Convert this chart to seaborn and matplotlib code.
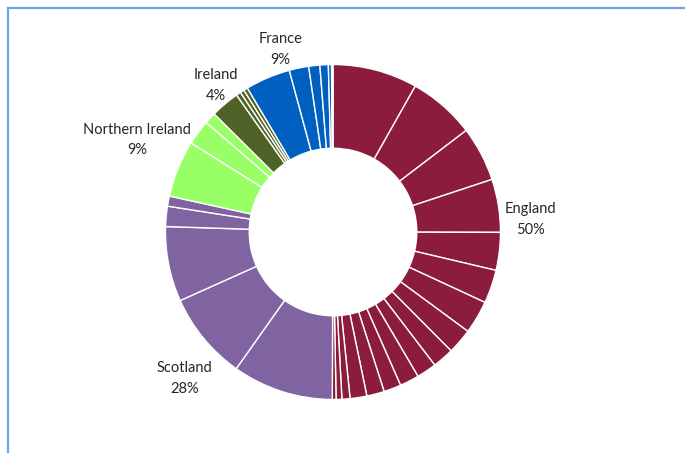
import matplotlib
matplotlib.use("Agg")
import matplotlib.pyplot as plt
import seaborn as sns
import numpy as np
from matplotlib.patches import Rectangle

# ---- data (slice values, grouped by country) ----
countries = ["England", "Scotland", "Northern Ireland", "Ireland", "France"]
england = [29.4, 23.2, 19.0, 18.4, 13.1, 11.6, 11.5, 8.8, 7.4, 6.9, 6.7, 6.0, 6.1, 5.8, 2.8, 2.0, 1.3]
scotland = [35.0, 30.5, 26.0, 7.0, 3.5]
northern_ireland = [19.7, 8.7, 4.0]
ireland = [10.0, 1.6, 1.4, 1.4]
france = [15.6, 6.75, 3.85, 2.9, 1.1, 0.5]
groups = [england, scotland, northern_ireland, ireland, france]

colors = ["#8B1C3B", "#8064A2", "#99FF66", "#4F6228", "#0060C0"]
label_pos = [(1.18, 0.075), (-0.885, -0.875), (-1.17, 0.55), (-0.70, 0.875), (-0.315, 1.09)]

sns.set_theme(style="white")
plt.rcParams["font.family"] = ["Lato", "DejaVu Sans"]

W, H = 685, 453
fig = plt.figure(figsize=(W / 100, H / 100), dpi=100)
fig.patch.set_facecolor("white")

cx, cy, R = 333, 232, 167.5
ax = fig.add_axes([0, 0, 1, 1])

values = [v for g in groups for v in g]
slice_colors = [colors[i] for i, g in enumerate(groups) for _ in g]

ax.pie(values, colors=slice_colors, startangle=90, counterclock=False,
       radius=1.0, wedgeprops=dict(width=0.5, edgecolor="white", linewidth=1.0))

ax.set_xlim(-cx / R, (W - cx) / R)
ax.set_ylim(-(H - cy) / R, cy / R)
ax.set_aspect("auto")
ax.axis("off")

total = sum(values)
for name, g, (lx, ly) in zip(countries, groups, label_pos):
    pct = round(100 * sum(g) / total)
    ax.text(lx, ly, f"{name}\n{pct}%", ha="center", va="center",
            fontsize=10.5, color="#262626", linespacing=1.6)

# outer frame (only left/top edges visible in the crop)
fig.patches.append(Rectangle((7.5 / W, -0.2), 1.2, 1.2 - 7.5 / H,
                             transform=fig.transFigure, fill=False,
                             edgecolor="#6FA0F0", linewidth=1.6))

fig.savefig("out.png", dpi=100, facecolor="white")
